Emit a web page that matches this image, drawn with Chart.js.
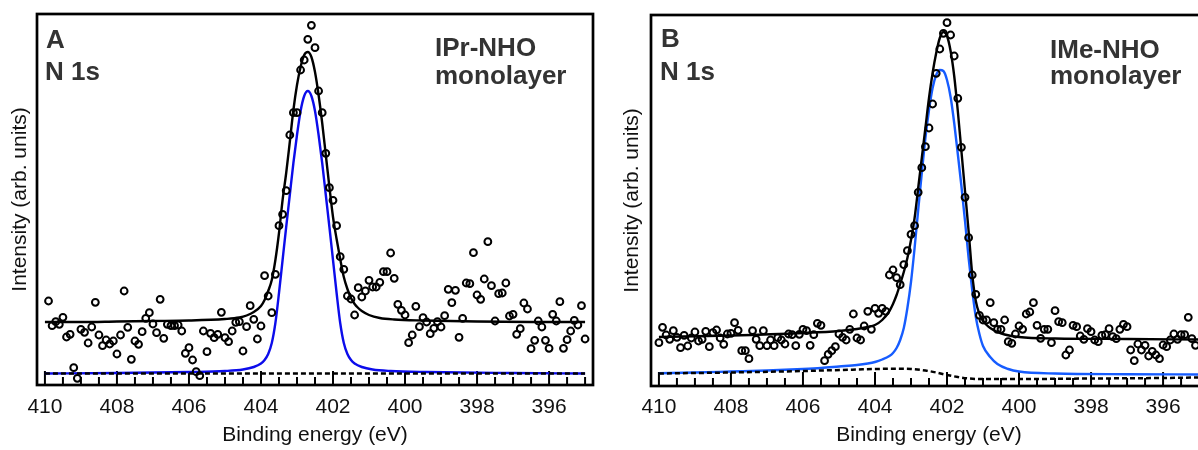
<!DOCTYPE html>
<html><head><meta charset="utf-8">
<script src="https://cdn.jsdelivr.net/npm/chart.js@4/dist/chart.umd.min.js"></script>
<style>
html,body{margin:0;padding:0;background:#fff;overflow:hidden;width:1198px;height:450px;}
#wrap{position:relative;width:1198px;height:450px;overflow:hidden;}
canvas{position:absolute;top:0;}
.lab{position:absolute;font-family:"Liberation Sans",Arial,sans-serif;font-weight:bold;font-size:26px;line-height:26px;color:#333;white-space:nowrap;}
</style></head><body>
<div id="wrap">
<canvas id="cA" width="599" height="450" style="left:0px"></canvas>
<canvas id="cB" width="599" height="450" style="left:614px"></canvas>
</div>
<script>
// ---------- text ----------
const panelLetters = ['A', 'B'];
const coreLevel = 'N 1s';
const sampleNames = ['IPr-NHO', 'IMe-NHO'];
const filmType = 'monolayer';
const xTitle = 'Binding energy (eV)';
const yTitle = 'Intensity (arb. units)';

// ---------- axis ticks ----------
const tickLabels = [410, 408, 406, 404, 402, 400, 398, 396];
const minorTicks = [409.5, 409, 408.5, 407.5, 407, 406.5, 405.5, 405, 404.5, 403.5, 403, 402.5,
  401.5, 401, 400.5, 399.5, 399, 398.5, 397.5, 397, 396.5, 395.5, 395];

// ---------- panel A : measured points ----------
const energyA = [
  409.9,409.8,409.7,409.6,409.5,409.4,409.3,409.2,409.1,409.0,
  408.9,408.8,408.7,408.6,408.5,408.4,408.3,408.2,408.1,408.0,
  407.9,407.8,407.7,407.6,407.5,407.4,407.3,407.2,407.1,407.0,
  406.9,406.8,406.7,406.6,406.5,406.4,406.3,406.2,406.1,406.0,
  405.9,405.8,405.7,405.6,405.5,405.4,405.3,405.2,405.1,405.0,
  404.9,404.8,404.7,404.6,404.5,404.4,404.3,404.2,404.1,404.0,
  403.9,403.8,403.7,403.6,403.5,403.4,403.3,403.2,403.1,403.0,
  402.9,402.8,402.7,402.6,402.5,402.4,402.3,402.2,402.1,402.0,
  401.9,401.8,401.7,401.6,401.5,401.4,401.3,401.2,401.1,401.0,
  400.9,400.8,400.7,400.6,400.5,400.4,400.3,400.2,400.1,400.0,
  399.9,399.8,399.7,399.6,399.5,399.4,399.3,399.2,399.1,399.0,
  398.9,398.8,398.7,398.6,398.5,398.4,398.3,398.2,398.1,398.0,
  397.9,397.8,397.7,397.6,397.5,397.4,397.3,397.2,397.1,397.0,
  396.9,396.8,396.7,396.6,396.5,396.4,396.3,396.2,396.1,396.0,
  395.9,395.8,395.7,395.6,395.5,395.4,395.3,395.2,395.1,395.0];
const countsA = [
  84,59.3,63.3,60.7,67.7,48,50.7,17.3,6.7,55.7,
  52.7,42,58,82.7,50,39.3,45,41,44,31,
  50,94,57.7,25.7,44,40.7,53.3,66.7,72.3,61,
  52.3,85.7,46.7,60.7,59.3,59.3,60,54,31.7,37.3,
  25,13.3,9.3,54,33.3,51.7,47.3,50.7,72.7,47.3,
  43.3,54,62.7,63.3,34,58.3,79.3,65.7,46,59,
  109.3,89,72.3,110.7,159.3,170.7,194.3,250,272.3,272.3,
  315,325,345.7,359.7,337.3,294,272.3,231.7,197.3,184.7,
  159.3,128.3,115.7,89,86,70,97.3,88,94,104.7,
  98,98,102.7,113.3,113.3,132,106.7,80.7,74.7,70,
  42.3,50,78.7,58.3,67.3,63,51.3,56.7,63.3,58,
  69.3,95.7,82.3,94.7,47.7,66.7,102,101.3,132.3,90,
  85.7,106,143.3,99.3,64,91.3,92,102,69,70.7,
  50.7,56.3,82,76,36.3,44.7,64,58,44.7,36.7,
  70.7,64,83.3,36.7,45.3,54,64.7,60,79.3,46];

// panel A : fitted envelope, component, background
const envEnergyA = [410,409,408,407,406,405,404.6,404.4,404.2,404.0,403.9,403.8,403.7,403.6,403.5,403.4,403.3,403.2,403.1,403.0,
  402.9,402.8,402.7,402.6,402.5,402.4,402.3,402.2,402.1,402.0,401.9,401.8,401.7,401.6,401.5,401.4,401.3,401.2,
  401.0,400.7,400.3,399.5,398.0,396.5,395.0];
const envA = [63,63,63.5,64,64.5,66,67.5,69.5,73,79,85,94,105,125,152,185,212,243,275,300,
  318,330,333,328,313,290,262,230,198,168,146,126,108,96,87,81,77,74,
  70,67,65.5,64.5,63.5,63,63];
const compEnergyA = [410,408,406,405,404.5,404.2,404.0,403.9,403.8,403.7,403.6,403.5,403.4,403.3,403.2,403.1,403.0,
  402.9,402.8,402.7,402.6,402.5,402.4,402.3,402.2,402.1,402.0,401.9,401.8,401.7,401.6,401.5,401.4,
  401.2,400.9,400.4,399.4,397.0,395.0];
const compA = [11.5,12,13,14,15.5,18,21.5,25,31,42,62,92,125,158,190,222,250,
  274,289,294,289,274,250,222,190,158,125,92,62,42,31,25,21.5,
  18,15.5,14,13,12,11.5];
const bgEnergyA = [410, 395];
const bgA = [11.5, 11.5];

// ---------- panel B : measured points ----------
const energyB = [
  410.0,409.9,409.8,409.7,409.6,409.5,409.4,409.3,409.2,409.1,
  409.0,408.9,408.8,408.7,408.6,408.5,408.4,408.3,408.2,408.1,
  408.0,407.9,407.8,407.7,407.6,407.5,407.4,407.3,407.2,407.1,
  407.0,406.9,406.8,406.7,406.6,406.5,406.4,406.3,406.2,406.1,
  406.0,405.9,405.8,405.7,405.6,405.5,405.4,405.3,405.2,405.1,
  405.0,404.9,404.8,404.7,404.6,404.5,404.4,404.3,404.2,404.1,
  404.0,403.9,403.8,403.7,403.6,403.5,403.4,403.3,403.2,403.1,
  403.0,402.9,402.8,402.7,402.6,402.5,402.4,402.3,402.2,402.1,
  402.0,401.9,401.8,401.7,401.6,401.5,401.4,401.3,401.2,401.1,
  401.0,400.9,400.8,400.7,400.6,400.5,400.4,400.3,400.2,400.1,
  400.0,399.9,399.8,399.7,399.6,399.5,399.4,399.3,399.2,399.1,
  399.0,398.9,398.8,398.7,398.6,398.5,398.4,398.3,398.2,398.1,
  398.0,397.9,397.8,397.7,397.6,397.5,397.4,397.3,397.2,397.1,
  397.0,396.9,396.8,396.7,396.6,396.5,396.4,396.3,396.2,396.1,
  396.0,395.9,395.8,395.7,395.6,395.5,395.4,395.3,395.2,395.1];
const countsB = [
  43.3,58.7,51,46.7,55.3,48.7,38.3,50.7,40,48,
  54,45,46.7,54.7,39.3,53.3,56,48,41.7,52,
  52.7,63.3,55.7,35.3,35.3,27.3,55.3,46.7,40.3,55.3,
  40.3,46,40.3,48.3,46,42,52,51.3,40.3,51.7,
  56.7,55.3,40.7,51.3,62.7,60.7,25.3,31.7,35.3,39.3,
  52,48.7,46,56.7,72,48,46,60,74.7,56.7,
  77.7,72.7,77.7,74.7,111,116,108.3,101.3,121.3,135.3,
  151.7,160.3,193.7,218.3,239.3,258,282,312.7,337,352.7,
  363.3,351,330,287.7,238.7,188.7,148.3,111,91.7,70.7,
  66,66,83.3,63.3,56.7,56.7,66,44.3,42.7,52,
  60,56.7,72,74,83.3,60.7,47.7,56.7,56.7,43.3,
  75.3,64.3,63.3,31,36,60.7,59.3,50,46.7,57.3,
  54.3,46,44.3,50.7,51.3,57.3,49.3,47.3,56.7,61.7,
  59.3,36,25.3,42,36,40.7,30,34.7,31,27.3,
  41,39.3,46,52,46.7,51.3,51.3,68.7,47.3,40.7];

// panel B : fitted envelope, component, background
const envEnergyB = [410,408,406,405,404.5,404.2,404.0,403.8,403.6,403.5,403.4,403.3,403.2,403.1,403.0,
  402.9,402.8,402.7,402.6,402.5,402.4,402.3,402.2,402.1,402.0,
  401.9,401.8,401.7,401.6,401.5,401.4,401.3,401.2,401.1,401.0,
  400.9,400.8,400.6,400.4,400.0,399.0,397.0,395.0];
const envB = [49,50.5,53,55,57,59,61,66,75,82,91,102,114,128,146,
  168,198,228,258,288,313,333,348,354,350,
  335,310,275,235,195,155,112,85,72,65,
  61,58,54,51.5,49,47.5,47,46.5];
const compEnergyB = [410,409,408,407,406,405.5,405,404.5,404.2,404.0,403.8,403.6,403.5,403.4,403.3,403.2,403.1,403.0,
  402.9,402.8,402.7,402.6,402.5,402.4,402.3,402.2,402.1,402.0,
  401.9,401.8,401.7,401.6,401.5,401.4,401.3,401.2,401.1,401.0,
  400.8,400.6,400.3,400.0,399.0,397.0,395.0];
const compB = [12.7,13.5,14.5,15.5,17,18,19.5,21,22.5,24,26.5,30,33,38,46,58,78,104,
  138,176,213,248,276,298,311,316,315,306,
  289,263,232,200,165,128,96,69,52,40,
  29,22,17,14.5,12.5,11.8,11.5];
const bgEnergyB = [410,408,406,404.5,404,403.5,403,402.6,402.3,402.0,401.7,401.4,401.0,400,398,396,395];
const bgB = [12.5,13.5,15,16.5,17,17.3,17,15.5,13.5,11,9,7.5,7,7,7.5,8,8.5];

// ---------- drawing ----------
Chart.defaults.font.family = '"Liberation Sans", Arial, sans-serif';

const pairs = (xs, ys) => xs.map((x, i) => ({x: x, y: ys[i]}));

const axisPlugin = {
  id: 'inwardTicksFrame',
  beforeDatasetsDraw(chart) {
    const {ctx, chartArea: {bottom}, scales: {x}} = chart;
    ctx.save();
    ctx.strokeStyle = '#000';
    ctx.lineWidth = 2;
    const draw = (v, len) => {
      const px = x.getPixelForValue(v);
      ctx.beginPath(); ctx.moveTo(px, bottom); ctx.lineTo(px, bottom - len); ctx.stroke();
    };
    tickLabels.forEach(v => draw(v, 14));
    minorTicks.forEach(v => draw(v, 8));
    ctx.restore();
  },
  afterDatasetsDraw(chart) {
    const {ctx, chartArea: {left, right, top, bottom}} = chart;
    ctx.save();
    ctx.strokeStyle = '#000';
    ctx.lineWidth = 2.7;
    ctx.strokeRect(left, top, right - left, bottom - top);
    ctx.restore();
  }
};

function makePanel(id, pts, env, comp, bg, blue, padTop, xHeight, tickPad, yTitlePad) {
  return new Chart(document.getElementById(id), {
    type: 'scatter',
    data: {
      datasets: [
        {data: pts, showLine: false, pointStyle: 'circle', pointRadius: 3.4, pointHoverRadius: 3.4,
         pointBorderWidth: 2, pointBorderColor: '#000', pointBackgroundColor: 'rgba(0,0,0,0)'},
        {data: env, showLine: true, borderColor: '#000', borderWidth: 2.4, pointRadius: 0,
         cubicInterpolationMode: 'monotone', fill: false},
        {data: bg, showLine: true, borderColor: '#000', borderWidth: 2.5, borderDash: [5, 3], pointRadius: 0,
         cubicInterpolationMode: 'monotone', fill: false},
        {data: comp, showLine: true, borderColor: blue, borderWidth: 2.4, pointRadius: 0,
         cubicInterpolationMode: 'monotone', fill: false}
      ]
    },
    options: {
      responsive: false, animation: false, devicePixelRatio: 1,
      layout: {padding: {top: padTop, right: 6, left: 0, bottom: 0}},
      plugins: {legend: {display: false}, tooltip: {enabled: false}},
      scales: {
        x: {
          type: 'linear', reverse: true, min: 394.78, max: 410.22,
          afterBuildTicks: (ax) => { ax.ticks = tickLabels.map(v => ({value: v})); },
          afterFit: (ax) => { ax.height = xHeight; },
          grid: {display: false, drawTicks: false}, border: {display: false},
          ticks: {font: {size: 21}, color: '#111', padding: tickPad, maxRotation: 0, autoSkip: false,
                  callback: (v) => String(v)},
          title: {display: true, text: xTitle, font: {size: 21}, color: '#111', padding: {top: 0, bottom: 2}}
        },
        y: {
          min: 0, max: 371,
          afterFit: (ax) => { ax.width = 37; },
          ticks: {display: false}, grid: {display: false}, border: {display: false},
          title: {display: true, text: yTitle, font: {size: 21}, color: '#111', padding: {top: yTitlePad, bottom: 0}}
        }
      }
    },
    plugins: [axisPlugin]
  });
}

makePanel('cA', pairs(energyA, countsA), pairs(envEnergyA, envA), pairs(compEnergyA, compA), pairs(bgEnergyA, bgA),
  'rgb(12,12,235)', 14, 65, 10, 8);
makePanel('cB', pairs(energyB, countsB), pairs(envEnergyB, envB), pairs(compEnergyB, compB), pairs(bgEnergyB, bgB),
  'rgb(22,92,255)', 15, 64, 9, 6);

// panel labels
const wrap = document.getElementById('wrap');
function label(text, left, top) {
  const d = document.createElement('div');
  d.className = 'lab';
  d.textContent = text;
  d.style.left = left + 'px';
  d.style.top = top + 'px';
  wrap.appendChild(d);
}
label(panelLetters[0], 46, 26);
label(coreLevel, 45, 58);
label(sampleNames[0], 435, 34);
label(filmType, 435, 62);
label(panelLetters[1], 661, 25);
label(coreLevel, 660, 58);
label(sampleNames[1], 1050, 36);
label(filmType, 1050, 62);
</script>
</body></html>
